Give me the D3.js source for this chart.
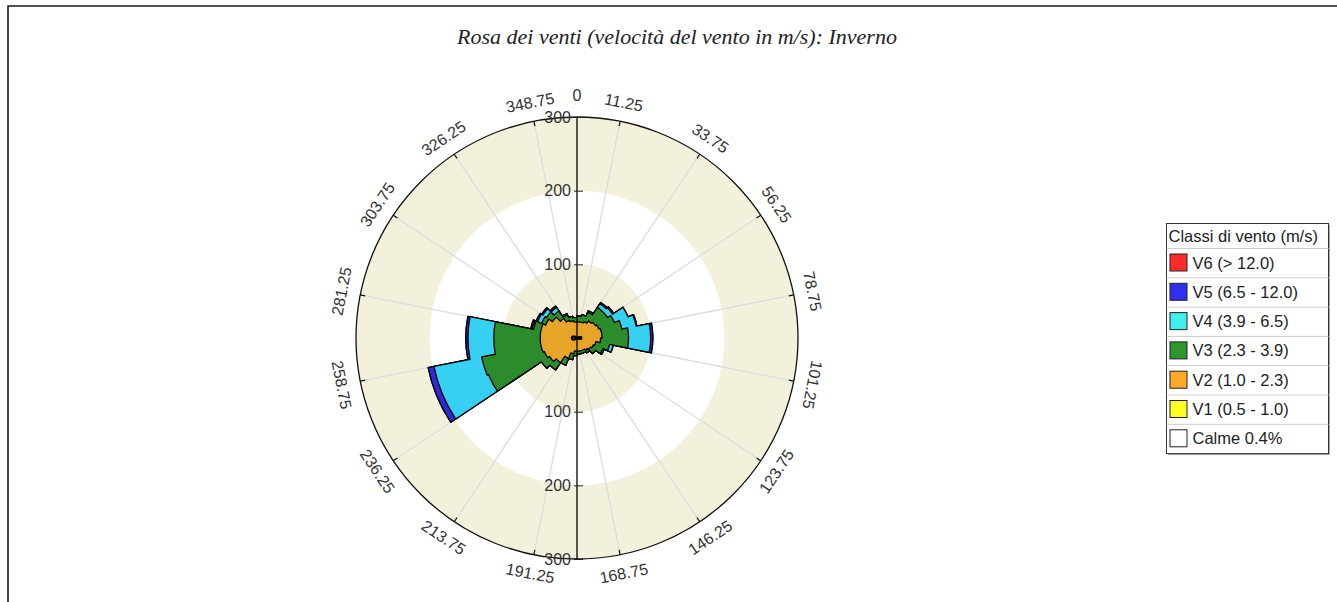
<!DOCTYPE html>
<html><head><meta charset="utf-8">
<script src="https://cdn.jsdelivr.net/npm/d3@7"></script>
<style>body{margin:0;background:#fff;} svg{display:block;}</style>
</head><body>
<svg id="c" width="1337" height="602"></svg>
<script>
// ---------- data ----------
const chartTitle = "Rosa dei venti (velocità del vento in m/s): Inverno";
const legendTitle = "Classi di vento (m/s)";
const classNames = ["V1 (0.5 - 1.0)","V2 (1.0 - 2.3)","V3 (2.3 - 3.9)","V4 (3.9 - 6.5)","V5 (6.5 - 12.0)","V6 (> 12.0)"];
const classColors = ["#ffff30","#e6a528","#2b8c2b","#36d0f2","#2a2ad8","#ff2a2a"];
const legendColors = ["#ffff20","#ffaa2a","#2f962f","#40eef0","#2f2ff0","#ff2a2a"];
const calmLabel = "Calme 0.4%";
const dirLabels = ["11.25","33.75","56.25","78.75","101.25","123.75","146.25","168.75","191.25","213.75","236.25","258.75","281.25","303.75","326.25","348.75"];
const northLabel = "0";
const radialTicks = [100, 200, 300];
// 32 direction sectors of 11.25 degrees, sector i starts at i*11.25
const sectorWidth = 11.25;
const v1 = [1,1,1,1,1,2,4,6,6,4,2,1,1,1,1,1,1,1,1,1,2,4,6,7,7,6,4,2,1,1,1,1];
const v2 = [21,21,23,27,29,30,30,28,26,22,22,21,19,17,17,17,17,21,29,39,43,44,44,43,43,44,42,38,31,25,23,21];
const v3 = [8,10,14,22,20,23,28,36,38,19,14,8,4,4,4,4,6,8,10,12,13,82,82,63,63,10,6,10,12,8,6,6];
const v4 = [0,0,2,6,8,20,20,30,30,5,2,0,0,0,0,0,0,0,0,0,0,68,66,35,35,2,6,6,6,2,0,0];
const v5 = [0,0,0,2,2,0,1,3,3,0,0,0,0,0,0,0,0,0,0,0,0,8,8,3,3,2,2,2,2,0,0,0];
const v6 = [0,0,0,0,0,0,0,0,0,0,0,0,0,0,0,0,0,0,0,0,0,0,0,0,0,0,0,0,0,0,0,0];
const series = [v1, v2, v3, v4, v5, v6];

// ---------- layout ----------
const svg = d3.select("#c");
const cx = 577, cy = 338, R = 221;
const rScale = d3.scaleLinear().domain([0, 300]).range([0, R]);
const toRad = d => (d - 90) * Math.PI / 180;

// frame
svg.append("path").attr("d", "M8,610 L8,6 L1345,6").attr("fill", "none").attr("stroke", "#1a1a1a").attr("stroke-width", 1.6);

// title
svg.append("text").attr("x", 677).attr("y", 44).attr("text-anchor", "middle")
  .attr("font-family", "'Liberation Serif','Times New Roman',serif").attr("font-style", "italic")
  .attr("font-size", 22).attr("fill", "#222").text(chartTitle);

const g = svg.append("g").attr("transform", `translate(${cx},${cy})`);

// bands
const bandCol = "#f3f1dc";
g.append("circle").attr("r", rScale(300)).attr("fill", bandCol);
g.append("circle").attr("r", rScale(200)).attr("fill", "#fff");
g.append("circle").attr("r", rScale(100)).attr("fill", bandCol);

// radial grid lines at label directions
const dirAngles = dirLabels.map(d => +d);
g.selectAll("line.grid").data(dirAngles).enter().append("line").attr("class", "grid")
  .attr("x1", 0).attr("y1", 0)
  .attr("x2", a => R * Math.sin(a * Math.PI / 180))
  .attr("y2", a => -R * Math.cos(a * Math.PI / 180))
  .attr("stroke", "#dedede").attr("stroke-width", 1.4);

// cumulative
const cum = [];
series.forEach((s, k) => cum.push(s.map((v, i) => v + (k ? cum[k - 1][i] : 0))));

function rosePath(radii) {
  const p = d3.path();
  radii.forEach((v, i) => {
    const a0 = toRad(i * sectorWidth), a1 = toRad((i + 1) * sectorWidth);
    p.arc(0, 0, rScale(v), a0, a1);
  });
  p.closePath();
  return p.toString();
}
for (let k = series.length - 1; k >= 0; k--) {
  g.append("path").attr("d", rosePath(cum[k])).attr("fill", classColors[k])
    .attr("stroke", "#000").attr("stroke-width", k === 0 ? 2 : 1.3).attr("stroke-linejoin", "round");
}

// outer circle
g.append("circle").attr("r", R).attr("fill", "none").attr("stroke", "#111").attr("stroke-width", 1.3);
// tick marks at boundaries
g.selectAll("line.tk").data(dirAngles).enter().append("line")
  .attr("x1", a => (R - 5) * Math.sin(a * Math.PI / 180)).attr("y1", a => -(R - 5) * Math.cos(a * Math.PI / 180))
  .attr("x2", a => R * Math.sin(a * Math.PI / 180)).attr("y2", a => -R * Math.cos(a * Math.PI / 180))
  .attr("stroke", "#111").attr("stroke-width", 1.2);

// vertical axis
g.append("line").attr("x1", 0).attr("x2", 0).attr("y1", -R).attr("y2", R).attr("stroke", "#000").attr("stroke-width", 1.3);
const yTop = d3.scaleLinear().domain([0, 300]).range([0, -R]);
const yBot = d3.scaleLinear().domain([0, 300]).range([0, R]);
[yTop, yBot].forEach(sc => {
  const ax = g.append("g").call(d3.axisLeft(sc).tickValues(radialTicks).tickSize(-6).tickPadding(6));
  ax.select(".domain").remove();
  ax.selectAll(".tick line").attr("x1", -3).attr("stroke", "#222");
  ax.selectAll("text").attr("font-family", "'Liberation Sans',Arial,sans-serif").attr("font-size", 16).attr("fill", "#333");
});

// direction labels
const lr = 240;
function rot(a) { if (a <= 101.25) return a; if (a < 270) return a - 180; return a - 360; }
g.selectAll("text.dir").data(dirAngles).enter().append("text").attr("class", "dir")
  .attr("transform", a => `translate(${lr * Math.sin(a * Math.PI / 180)},${-lr * Math.cos(a * Math.PI / 180)}) rotate(${rot(a)})`)
  .attr("text-anchor", "middle").attr("dominant-baseline", "central")
  .attr("font-family", "'Liberation Sans',Arial,sans-serif").attr("font-size", 16).attr("fill", "#333")
  .text((a, i) => dirLabels[i]);
g.append("text").attr("x", 0).attr("y", -243).attr("text-anchor", "middle").attr("dominant-baseline", "central")
  .attr("font-family", "'Liberation Sans',Arial,sans-serif").attr("font-size", 16).attr("fill", "#333").text(northLabel);

// legend
const lx = 1166.5, ly = 223.5, lw = 162, th = 25, rh = 29.3;
const entries = classNames.map((n, i) => ({ name: n, color: legendColors[i] })).reverse();
entries.push({ name: calmLabel, color: "#fff" });
const lh = th + rh * entries.length;
const lg = svg.append("g");
lg.append("rect").attr("x", lx + 1.5).attr("y", ly + 1.5).attr("width", lw).attr("height", lh).attr("fill", "#aaa");
lg.append("rect").attr("x", lx).attr("y", ly).attr("width", lw).attr("height", lh).attr("fill", "#fff").attr("stroke", "#333").attr("stroke-width", 1);
lg.append("text").attr("x", lx + 2).attr("y", ly + 18).attr("font-family", "'Liberation Sans',Arial,sans-serif")
  .attr("font-size", 16.5).attr("fill", "#222").text(legendTitle);
entries.forEach((e, i) => {
  const y0 = ly + th + i * rh;
  lg.append("line").attr("x1", lx).attr("x2", lx + lw).attr("y1", y0).attr("y2", y0).attr("stroke", "#ccc");
  lg.append("rect").attr("x", lx + 3.5).attr("y", y0 + 5.5).attr("width", 17).attr("height", 17)
    .attr("fill", e.color).attr("stroke", "#222").attr("stroke-width", 1);
  lg.append("text").attr("x", lx + 26).attr("y", y0 + 20).attr("font-family", "'Liberation Sans',Arial,sans-serif")
    .attr("font-size", 16.5).attr("fill", "#222").text(e.name);
});
</script>
</body></html>
